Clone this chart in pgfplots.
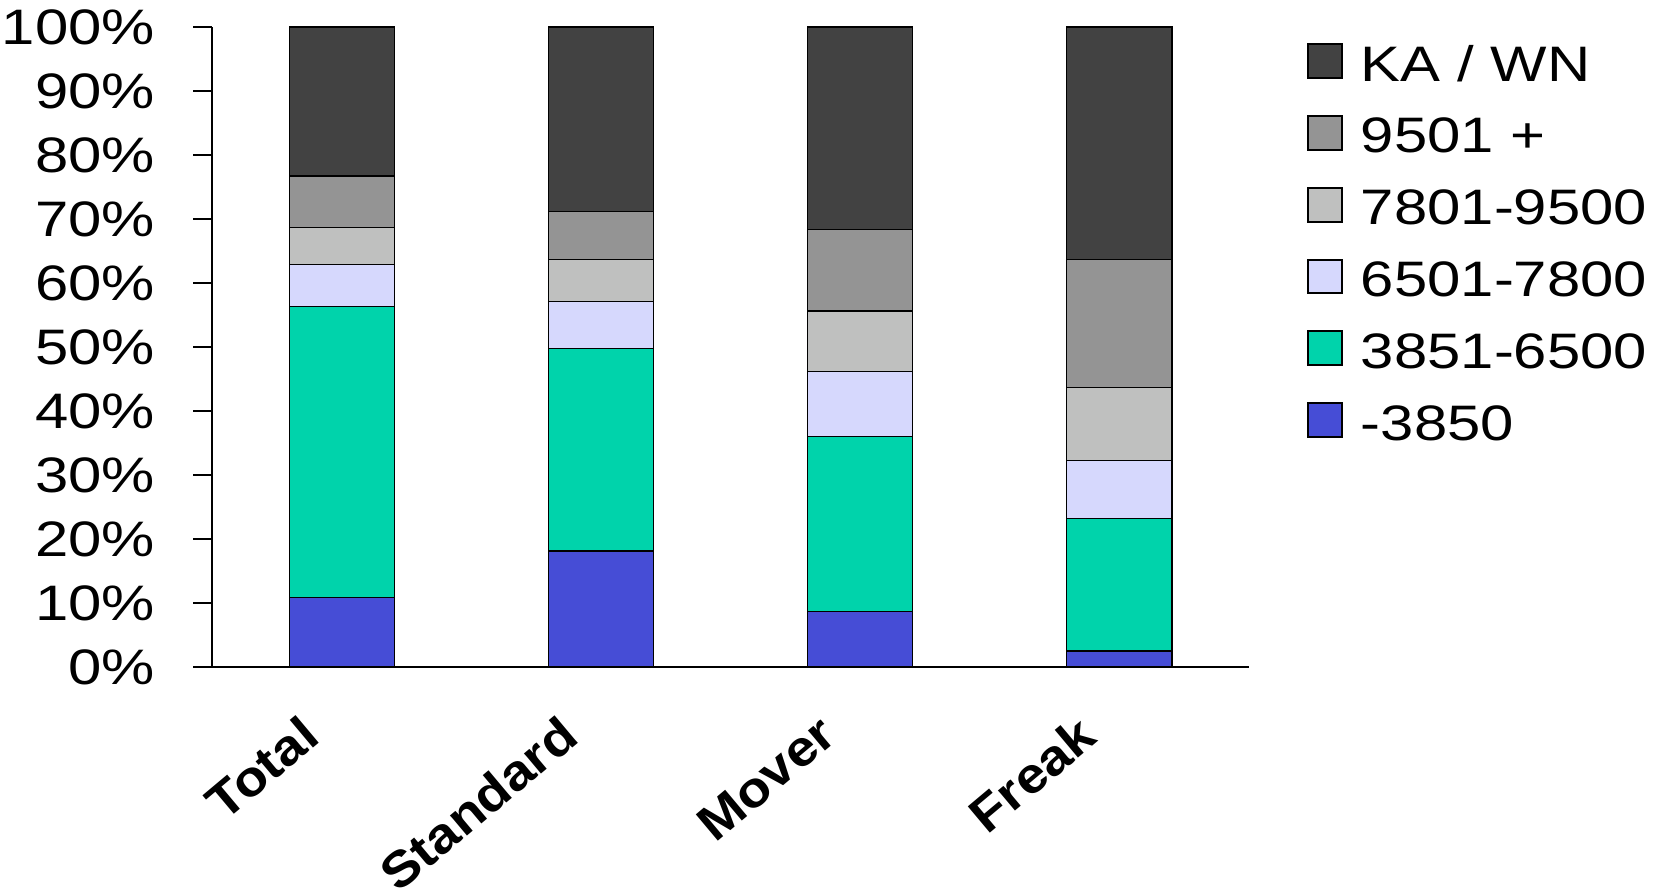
\documentclass[border=0pt]{standalone}
\usepackage{fontspec}
\setmainfont{Liberation Sans}[FakeStretch=1.2]
\newfontfamily\catfont{Liberation Sans}[FakeStretch=1.1]
\usepackage{pgfplots}
\pgfplotsset{compat=1.18}

\definecolor{cKA}{RGB}{66,66,66}
\definecolor{cNine}{RGB}{148,148,148}
\definecolor{cSeven}{RGB}{191,192,191}
\definecolor{cSix}{RGB}{214,216,253}
\definecolor{cThree}{RGB}{0,211,171}
\definecolor{cLow}{RGB}{70,77,214}

\begin{document}
\begin{tikzpicture}
\begin{axis}[
  scale only axis,
  width=520pt, height=321pt,
  ybar stacked,
  bar width=52.8pt,
  xmin=-0.5, xmax=3.5,
  ymin=0, ymax=100,
  axis x line*=bottom,
  axis y line*=left,
  axis line style={black, line width=0.8pt},
  tick align=outside,
  xtick={0,1,2,3},
  xticklabels={Total,Standard,Mover,Freak},
  x tick style={draw=none},
  minor xtick={-0.5,0.5,1.5,2.5,3.5},
  minor x tick style={black, line width=0.8pt},
  minor tick length=7pt,
  major tick length=9.5pt,
  ytick={0,10,...,100},
  yticklabels={0\%,10\%,20\%,30\%,40\%,50\%,60\%,70\%,80\%,90\%,100\%},
  y tick style={black, line width=0.8pt},
  yticklabel style={font=\fontsize{25}{30}\selectfont, inner sep=1pt, xshift=-18pt},
  xticklabel style={font=\fontsize{25}{30}\selectfont\catfont\bfseries, xshift=-21.7pt, yshift=-13.5pt, rotate=40, anchor=north east, inner sep=0pt},
  every axis plot/.append style={draw=black, line width=0.6pt},
  reverse legend,
  legend style={
    draw=none, fill=none,
    at={(rel axis cs:1,1)}, anchor=north west,
    xshift=26pt, yshift=-3pt,
    font=\fontsize{25}{30}\selectfont,
    row sep=12pt,
    column sep=7pt,
    nodes={inner sep=2pt, text height=20pt, text depth=0pt},
  },
  legend cell align=left,
  legend image code/.code={
    \draw[#1, draw=black, line width=1pt] (0pt,-8.5pt) rectangle (17pt,8.5pt);
  },
]
% shares per category: Total, Standard, Mover, Freak
\addplot[fill=cLow]   coordinates {(0,10.9) (1,18.1) (2,8.7)  (3,2.5)};
\addplot[fill=cThree] coordinates {(0,45.4) (1,31.7) (2,27.3) (3,20.7)};
\addplot[fill=cSix]   coordinates {(0,6.6)  (1,7.3)  (2,10.2) (3,9.1)};
\addplot[fill=cSeven] coordinates {(0,5.8)  (1,6.5)  (2,9.4)  (3,11.3)};
\addplot[fill=cNine]  coordinates {(0,8.0)  (1,7.6)  (2,12.8) (3,20.0)};
\addplot[fill=cKA]    coordinates {(0,23.3) (1,28.8) (2,31.6) (3,36.4)};
\legend{-3850,3851-6500,6501-7800,7801-9500,9501 +,KA / WN}
\end{axis}
% white margin above the plot area
\path (current axis.north) -- ++(0,13.5pt);
\end{tikzpicture}
\end{document}
